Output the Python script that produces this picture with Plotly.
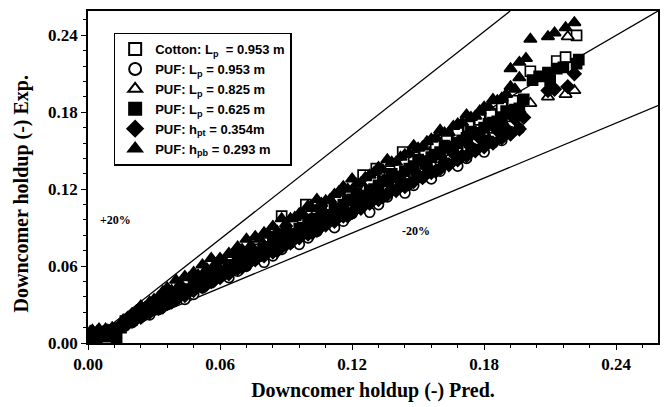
import plotly.graph_objects as go

# ---- measured series: predicted (x) vs experimental (y) downcomer holdup ----
cotton_953_x = [0.002, 0.007, 0.012, 0.017, 0.022, 0.027, 0.032, 0.037, 0.042, 0.045,
                0.050, 0.055, 0.060, 0.065, 0.070, 0.075, 0.080, 0.085, 0.088, 0.093,
                0.099, 0.104, 0.109, 0.114, 0.119, 0.125, 0.131, 0.137, 0.143, 0.148,
                0.153, 0.158, 0.163, 0.168, 0.173, 0.178, 0.183, 0.188, 0.193, 0.201,
                0.213, 0.217, 0.222]
cotton_953_y = [0.003, 0.008, 0.010, 0.017, 0.022, 0.027, 0.031, 0.036, 0.041, 0.049,
                0.049, 0.054, 0.058, 0.063, 0.069, 0.073, 0.078, 0.083, 0.099, 0.091,
                0.108, 0.101, 0.106, 0.111, 0.116, 0.131, 0.136, 0.134, 0.149, 0.145,
                0.149, 0.154, 0.159, 0.164, 0.169, 0.174, 0.179, 0.184, 0.189, 0.212,
                0.220, 0.223, 0.240]

puf_953_x = [0.001, 0.004, 0.007, 0.010, 0.013,
             0.016, 0.020, 0.024, 0.028, 0.032, 0.036, 0.040, 0.044, 0.048, 0.052,
             0.056, 0.060, 0.064, 0.068, 0.072, 0.076, 0.080, 0.084, 0.088, 0.092,
             0.096, 0.100, 0.104, 0.108, 0.112, 0.116, 0.120, 0.124, 0.128, 0.132,
             0.136, 0.140, 0.144, 0.148, 0.152, 0.156, 0.160, 0.164, 0.168, 0.172,
             0.176, 0.180, 0.184, 0.188, 0.192, 0.196]
puf_953_y = [0.006, 0.007, 0.008, 0.009, 0.011,
             0.013, 0.016, 0.020, 0.022, 0.026, 0.030, 0.034, 0.034, 0.038, 0.043,
             0.047, 0.052, 0.051, 0.056, 0.060, 0.065, 0.063, 0.068, 0.073, 0.078,
             0.077, 0.082, 0.087, 0.093, 0.090, 0.095, 0.101, 0.107, 0.102, 0.108,
             0.114, 0.120, 0.117, 0.123, 0.129, 0.128, 0.134, 0.141, 0.138, 0.144,
             0.151, 0.149, 0.156, 0.158, 0.165, 0.167]

puf_825_x = [0.001, 0.004, 0.009, 0.012,
             0.016, 0.020, 0.024, 0.028, 0.032, 0.036, 0.040, 0.044, 0.048, 0.052,
             0.056, 0.060, 0.064, 0.068, 0.072, 0.076, 0.080, 0.084, 0.088, 0.092,
             0.096, 0.100, 0.104, 0.108, 0.112, 0.116, 0.120, 0.124, 0.128, 0.132,
             0.136, 0.140, 0.144, 0.148, 0.152, 0.156, 0.160, 0.164, 0.168, 0.172,
             0.176, 0.180, 0.184, 0.188, 0.192, 0.196,
             0.201, 0.209, 0.217, 0.218, 0.221]
puf_825_y = [0.009, 0.009, 0.010, 0.011,
             0.015, 0.018, 0.023, 0.025, 0.029, 0.033, 0.038, 0.039, 0.043, 0.048,
             0.053, 0.052, 0.057, 0.062, 0.067, 0.066, 0.071, 0.076, 0.082, 0.080,
             0.085, 0.091, 0.097, 0.094, 0.100, 0.106, 0.112, 0.108, 0.114, 0.120,
             0.126, 0.123, 0.130, 0.136, 0.134, 0.140, 0.147, 0.144, 0.151, 0.158,
             0.157, 0.164, 0.166, 0.173, 0.175, 0.182,
             0.187, 0.192, 0.194, 0.239, 0.197]

puf_625_x = [0.000, 0.001, 0.003, 0.004, 0.006, 0.008, 0.009, 0.011, 0.012, 0.013, 0.015,
             0.018, 0.022, 0.026, 0.030, 0.034, 0.038, 0.042, 0.046, 0.050, 0.054,
             0.058, 0.062, 0.066, 0.070, 0.074, 0.078, 0.082, 0.086, 0.090, 0.094,
             0.098, 0.102, 0.106, 0.110, 0.114, 0.118, 0.122, 0.126, 0.130, 0.134,
             0.138, 0.142, 0.146, 0.150, 0.154, 0.158, 0.162, 0.166, 0.170, 0.174,
             0.178, 0.182, 0.186, 0.190, 0.194, 0.198,
             0.020, 0.024, 0.028, 0.032, 0.036, 0.040, 0.044, 0.048, 0.052, 0.056,
             0.060, 0.064, 0.068, 0.072, 0.076, 0.080, 0.084, 0.088, 0.092, 0.096,
             0.100, 0.104, 0.108, 0.112, 0.116, 0.120, 0.124, 0.128, 0.132, 0.136,
             0.140, 0.144, 0.148, 0.152, 0.156, 0.160, 0.164, 0.168, 0.172, 0.176,
             0.180, 0.184, 0.188, 0.192, 0.196,
             0.202, 0.205, 0.209, 0.210, 0.213, 0.216, 0.222, 0.223]
puf_625_y = [0.006, 0.004, 0.007, 0.003, 0.008, 0.005, 0.009, 0.006, 0.010, 0.004, 0.012,
             0.017, 0.021, 0.025, 0.027, 0.032, 0.036, 0.041, 0.042, 0.047, 0.051,
             0.056, 0.056, 0.061, 0.066, 0.071, 0.070, 0.075, 0.081, 0.086, 0.085,
             0.090, 0.096, 0.102, 0.099, 0.105, 0.111, 0.117, 0.113, 0.120, 0.126,
             0.132, 0.129, 0.136, 0.143, 0.140, 0.147, 0.154, 0.151, 0.158, 0.165,
             0.164, 0.171, 0.173, 0.181, 0.182, 0.190,
             0.018, 0.022, 0.026, 0.029, 0.033, 0.037, 0.040, 0.045, 0.048, 0.052,
             0.055, 0.060, 0.063, 0.067, 0.070, 0.074, 0.078, 0.082, 0.085, 0.089,
             0.093, 0.097, 0.100, 0.104, 0.108, 0.112, 0.115, 0.119, 0.123, 0.127,
             0.130, 0.134, 0.138, 0.142, 0.145, 0.149, 0.153, 0.156, 0.160, 0.164,
             0.168, 0.172, 0.175, 0.179, 0.183,
             0.205, 0.208, 0.211, 0.205, 0.214, 0.215, 0.218, 0.221]

puf_hpt_x = [0.002, 0.005, 0.008, 0.011, 0.014,
             0.018, 0.022, 0.026, 0.030, 0.034, 0.038, 0.042, 0.046, 0.050, 0.054,
             0.058, 0.062, 0.066, 0.070, 0.074, 0.078, 0.082, 0.086, 0.090, 0.094,
             0.098, 0.102, 0.106, 0.110, 0.114, 0.118, 0.122, 0.126, 0.130, 0.134,
             0.138, 0.142, 0.146, 0.150, 0.154, 0.158, 0.162, 0.166, 0.170, 0.174,
             0.178, 0.182, 0.186, 0.190, 0.194, 0.198,
             0.020, 0.024, 0.028, 0.032, 0.036, 0.040, 0.044, 0.048, 0.052, 0.056,
             0.060, 0.064, 0.068, 0.072, 0.076, 0.080, 0.084, 0.088, 0.092, 0.096,
             0.100, 0.104, 0.108, 0.112, 0.116, 0.120, 0.124, 0.128, 0.132, 0.136,
             0.140, 0.144, 0.148, 0.152, 0.156, 0.160, 0.164, 0.168, 0.172, 0.176,
             0.180, 0.184, 0.188, 0.192, 0.196,
             0.209, 0.212, 0.218, 0.221]
puf_hpt_y = [0.008, 0.009, 0.009, 0.010, 0.012,
             0.015, 0.019, 0.023, 0.027, 0.028, 0.032, 0.037, 0.041, 0.046, 0.046,
             0.050, 0.055, 0.060, 0.059, 0.064, 0.069, 0.074, 0.072, 0.077, 0.083,
             0.088, 0.086, 0.091, 0.097, 0.103, 0.099, 0.105, 0.111, 0.117, 0.114,
             0.120, 0.126, 0.124, 0.131, 0.137, 0.134, 0.141, 0.148, 0.146, 0.153,
             0.160, 0.158, 0.166, 0.167, 0.175, 0.176,
             0.017, 0.020, 0.024, 0.027, 0.031, 0.034, 0.037, 0.041, 0.044, 0.048,
             0.051, 0.054, 0.058, 0.061, 0.065, 0.068, 0.071, 0.075, 0.078, 0.082,
             0.085, 0.088, 0.092, 0.095, 0.099, 0.102, 0.105, 0.109, 0.112, 0.116,
             0.119, 0.122, 0.126, 0.129, 0.133, 0.136, 0.139, 0.143, 0.146, 0.150,
             0.153, 0.156, 0.160, 0.163, 0.167,
             0.197, 0.198, 0.200, 0.210]

puf_hpb_x = [0.002, 0.005, 0.008, 0.011, 0.014,
             0.016, 0.020, 0.024, 0.028, 0.032, 0.036, 0.040, 0.044, 0.048, 0.052,
             0.056, 0.060, 0.064, 0.068, 0.072, 0.076, 0.080, 0.084, 0.088, 0.092,
             0.096, 0.100, 0.104, 0.108, 0.112, 0.116, 0.120, 0.124, 0.128, 0.132,
             0.136, 0.140, 0.144, 0.148, 0.152, 0.156, 0.160, 0.164, 0.168, 0.172,
             0.176, 0.180, 0.184, 0.188, 0.192, 0.196,
             0.018, 0.022, 0.026, 0.030, 0.034, 0.038, 0.042, 0.046, 0.050, 0.054,
             0.058, 0.062, 0.066, 0.070, 0.074, 0.078, 0.082, 0.086, 0.090, 0.094,
             0.098, 0.102, 0.106, 0.110, 0.114, 0.118, 0.122, 0.126, 0.130, 0.134,
             0.138, 0.142, 0.146, 0.150, 0.154, 0.158, 0.162, 0.166, 0.170, 0.174,
             0.178, 0.182, 0.186, 0.190, 0.194,
             0.192, 0.196, 0.199, 0.201, 0.209, 0.212, 0.217, 0.221]
puf_hpb_y = [0.010, 0.011, 0.011, 0.012, 0.013,
             0.018, 0.023, 0.029, 0.032, 0.036, 0.043, 0.049, 0.052, 0.055, 0.061,
             0.066, 0.066, 0.070, 0.075, 0.081, 0.083, 0.086, 0.091, 0.097, 0.097,
             0.101, 0.107, 0.112, 0.111, 0.116, 0.122, 0.128, 0.125, 0.131, 0.137,
             0.143, 0.141, 0.147, 0.154, 0.153, 0.159, 0.166, 0.164, 0.171, 0.178,
             0.177, 0.184, 0.190, 0.191, 0.200, 0.207,
             0.020, 0.025, 0.028, 0.034, 0.040, 0.041, 0.046, 0.051, 0.053, 0.058,
             0.062, 0.064, 0.070, 0.073, 0.076, 0.081, 0.085, 0.087, 0.093, 0.098,
             0.100, 0.105, 0.109, 0.112, 0.118, 0.120, 0.124, 0.129, 0.133, 0.135,
             0.141, 0.145, 0.148, 0.152, 0.157, 0.160, 0.164, 0.169, 0.172, 0.176,
             0.181, 0.184, 0.189, 0.194, 0.198,
             0.214, 0.219, 0.222, 0.237, 0.239, 0.242, 0.246, 0.250]

# ---- axes / reference lines ----
axis_max = 0.259
tick_vals = [0.00, 0.06, 0.12, 0.18, 0.24]
parity_slopes = [1.35, 1.0, 0.715]   # upper band, parity, lower band

SERIF = "Liberation Serif, Times New Roman, serif"
SANS = "Liberation Sans, Arial, sans-serif"

fig = go.Figure()

# reference lines, clipped to the plotting window
for k in parity_slopes:
    x_end = min(axis_max, axis_max / k)
    fig.add_trace(go.Scatter(
        x=[0, x_end], y=[0, k * x_end], mode="lines",
        line=dict(color="black", width=1.3), showlegend=False, hoverinfo="skip"))

series = [
    ("Cotton: L<sub>p</sub>  = 0.953 m", cotton_953_x, cotton_953_y, "square", "white", 10),
    ("PUF: L<sub>p</sub> = 0.953 m", puf_953_x, puf_953_y, "circle", "white", 10),
    ("PUF: L<sub>p</sub> = 0.825 m", puf_825_x, puf_825_y, "triangle-up", "white", 11),
    ("PUF: L<sub>p</sub> = 0.625 m", puf_625_x, puf_625_y, "square", "black", 10),
    ("PUF: h<sub>pt</sub> = 0.354m", puf_hpt_x, puf_hpt_y, "diamond", "black", 10),
    ("PUF: h<sub>pb</sub> = 0.293 m", puf_hpb_x, puf_hpb_y, "triangle-up", "black", 11),
]
for name, xs, ys, sym, fill, size in series:
    fig.add_trace(go.Scatter(
        x=xs, y=ys, mode="markers", name=name,
        marker=dict(symbol=sym, size=size, color=fill,
                    line=dict(color="black", width=1.7))))

axis_common = dict(
    range=[0, axis_max], tickvals=tick_vals, tickformat=".2f",
    showline=True, linecolor="black", linewidth=1.5, mirror=True,
    ticks="outside", ticklen=5, tickwidth=1.3, tickcolor="black",
    minor=dict(dtick=0.012, ticks="outside", ticklen=3, tickwidth=1.1, tickcolor="black"),
    showgrid=False, zeroline=False,
    tickfont=dict(family=SERIF, size=17, color="black", weight="bold"),
)

title_font = dict(family=SERIF, size=20, color="black", weight="bold")
fig.update_xaxes(**axis_common,
                 title=dict(text="Downcomer holdup (-) Pred.", standoff=10, font=title_font))
fig.update_yaxes(**axis_common)

# vertical axis title, set slightly below the plot-area centre
fig.add_annotation(xref="paper", yref="paper", x=-0.116, y=0.45,
                   text="Downcomer holdup (-) Exp.", textangle=-90, showarrow=False,
                   xanchor="center", yanchor="middle", font=title_font)

fig.add_annotation(x=0.0127, y=0.0958, text="+20%", showarrow=False,
                   font=dict(family=SERIF, size=12, color="black", weight="bold"))
fig.add_annotation(x=0.149, y=0.0874, text="-20%", showarrow=False,
                   font=dict(family=SERIF, size=12, color="black", weight="bold"))

fig.update_layout(
    width=669, height=407,
    margin=dict(l=88, r=9, t=10, b=58),
    paper_bgcolor="white", plot_bgcolor="white",
    legend=dict(x=0.045, y=0.935, xanchor="left", yanchor="top",
                bgcolor="white", bordercolor="black", borderwidth=1.5,
                font=dict(family=SANS, size=13, color="black", weight="bold"),
                tracegroupgap=0, itemsizing="constant"),
)

fig.write_html("out.html")
